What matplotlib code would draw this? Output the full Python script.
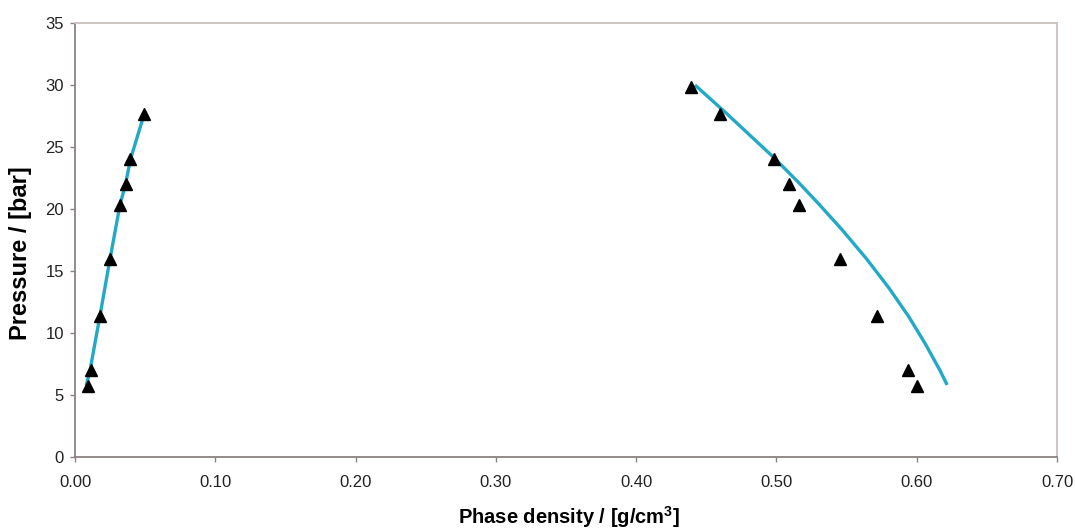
import matplotlib
matplotlib.use("Agg")
import matplotlib.pyplot as plt

plt.rcParams['font.family'] = ['Liberation Sans', 'DejaVu Sans']
plt.rcParams['mathtext.fontset'] = 'custom'
plt.rcParams['mathtext.rm'] = 'Liberation Sans:bold'
plt.rcParams['mathtext.bf'] = 'Liberation Sans:bold'

# Experimental data (triangles)
vap_density = [0.0093, 0.0114, 0.0180, 0.0249, 0.0323, 0.0366, 0.0390, 0.0492]
vap_pressure = [5.75, 7.05, 11.4, 16.0, 20.3, 22.0, 24.0, 27.7]
liq_density = [0.4391, 0.4598, 0.4983, 0.5089, 0.5163, 0.5455, 0.5719, 0.5940, 0.6004]
liq_pressure = [29.85, 27.7, 24.0, 22.0, 20.3, 16.0, 11.4, 7.05, 5.75]

# Model curves
vap_line_density = [0.0080, 0.0108, 0.0178, 0.0250, 0.0320, 0.0360, 0.0395, 0.0500]
vap_line_pressure = [5.75, 7.05, 11.4, 16.0, 20.3, 22.0, 24.0, 27.9]
liq_line_density = [0.4419, 0.4641, 0.4985, 0.5161, 0.5296, 0.5469, 0.5643,
                    0.5802, 0.5945, 0.6062, 0.6164, 0.6217]
liq_line_pressure = [30.0, 27.74, 24.11, 22.10, 20.48, 18.31, 15.97,
                     13.63, 11.29, 9.11, 7.02, 5.81]

x_ticks = [0.00, 0.10, 0.20, 0.30, 0.40, 0.50, 0.60, 0.70]
y_ticks = [0, 5, 10, 15, 20, 25, 30, 35]

fig = plt.figure(figsize=(10.75, 5.29), dpi=100)
ax = fig.add_axes([75/1075, 1-457/529, (1057-75)/1075, (457-23)/529])

line_color = '#22a9c6'
ax.plot(vap_line_density, vap_line_pressure, color=line_color, lw=2.4, zorder=2,
        solid_capstyle='butt', solid_joinstyle='round')
ax.plot(liq_line_density, liq_line_pressure, color=line_color, lw=2.4, zorder=2,
        solid_capstyle='butt', solid_joinstyle='round')
ax.plot(vap_density, vap_pressure, '^', color='black', ms=9, zorder=3, clip_on=False)
ax.plot(liq_density, liq_pressure, '^', color='black', ms=9, zorder=3, clip_on=False)

ax.set_xlim(0, 0.70)
ax.set_ylim(0, 35)
ax.set_xticks(x_ticks)
ax.set_xticklabels([f"{t:.2f}" for t in x_ticks])
ax.set_yticks(y_ticks)

for s in ['left', 'bottom']:
    ax.spines[s].set_color('#8a8280')
    ax.spines[s].set_linewidth(1.3)
for s in ['top', 'right']:
    ax.spines[s].set_color('#c9c2be')
    ax.spines[s].set_linewidth(1.3)

ax.tick_params(axis='both', direction='out', length=3.6, width=1, color='#8a8280',
               labelsize=12, labelcolor='#222222')
ax.tick_params(axis='x', pad=9.5)
ax.tick_params(axis='y', pad=4.3)

ax.set_xlabel('Phase density / [g/cm$^3$]', fontsize=14.5, fontweight='bold')
ax.xaxis.label.set_va('baseline')
ax.xaxis.set_label_coords((569 - 75) / 982, (457 - 524) / 434)

ax.set_ylabel('Pressure / [bar]', fontsize=17, fontweight='bold')
ax.yaxis.label.set_va('center')
ax.yaxis.set_label_coords((21 - 75) / 982, (457 - 253) / 434)

fig.savefig('out.png', dpi=100)
